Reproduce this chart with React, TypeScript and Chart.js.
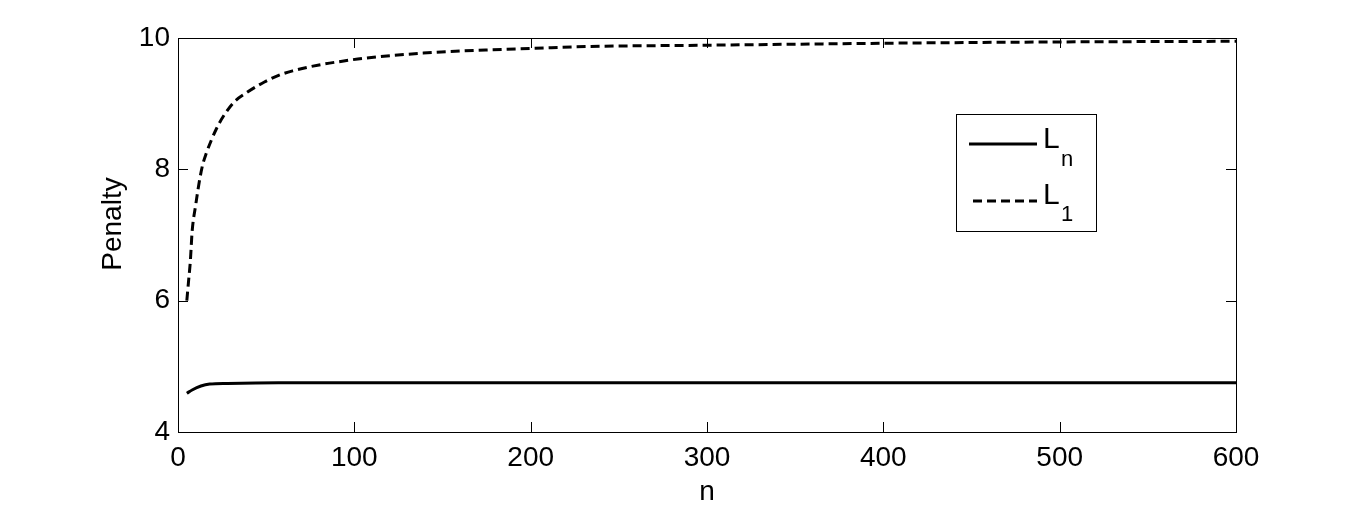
import React, { useEffect, useRef } from "react";
import { Chart, registerables } from "chart.js";

Chart.register(...registerables);

// ---- data ----
const l1N = [5, 6, 7, 8, 10, 12, 14, 16, 19, 22, 26, 32, 39, 49, 58, 65, 80, 94, 105, 139, 177, 200, 232, 300, 400, 500, 600];
const l1Vals = [6.0, 6.3, 6.6, 7.05, 7.45, 7.8, 8.07, 8.24, 8.45, 8.63, 8.82, 9.03, 9.17, 9.33, 9.44, 9.5, 9.59, 9.65, 9.69, 9.77, 9.82, 9.84, 9.87, 9.89, 9.92, 9.94, 9.95];

const lnN = [5, 8, 13, 18, 28, 57, 150, 300, 450, 600];
const lnVals = [4.59, 4.64, 4.7, 4.73, 4.74, 4.75, 4.75, 4.75, 4.75, 4.75];

const xTicks = [0, 100, 200, 300, 400, 500, 600];
const yTicks = [4, 6, 8, 10];

const seriesLabels = ["L", "L"];
const seriesSubs = ["n", "1"];
const xTitle = "n";
const yTitle = "Penalty";

const FONT = '"Liberation Sans", Arial, sans-serif';

const framePlugin = {
  id: "framePlugin",
  afterDatasetsDraw(chart: any) {
    const { ctx, chartArea } = chart;
    const { left, right, top, bottom } = chartArea;
    const xs = chart.scales.x;
    const ys = chart.scales.y;
    ctx.save();
    ctx.strokeStyle = "#000";
    ctx.lineWidth = 1;
    ctx.strokeRect(Math.round(left) + 0.5, Math.round(top) + 0.5, Math.round(right - left), Math.round(bottom - top));
    const tl = 10;
    ctx.beginPath();
    xTicks.forEach((v) => {
      const px = Math.round(xs.getPixelForValue(v)) + 0.5;
      ctx.moveTo(px, bottom);
      ctx.lineTo(px, bottom - tl);
      ctx.moveTo(px, top);
      ctx.lineTo(px, top + tl);
    });
    yTicks.forEach((v) => {
      const py = Math.round(ys.getPixelForValue(v)) + 0.5;
      ctx.moveTo(left, py);
      ctx.lineTo(left + tl, py);
      ctx.moveTo(right, py);
      ctx.lineTo(right - tl, py);
    });
    ctx.stroke();

    // axis titles
    ctx.fillStyle = "#000";
    ctx.font = `28px ${FONT}`;
    ctx.textAlign = "center";
    ctx.textBaseline = "alphabetic";
    ctx.fillText(xTitle, (left + right) / 2, 500);
    ctx.save();
    ctx.translate(121, 224);
    ctx.rotate(-Math.PI / 2);
    ctx.fillText(yTitle, 0, 0);
    ctx.restore();

    // legend
    const bx = 956.5, by = 114.5, bw = 140, bh = 117;
    ctx.fillStyle = "#fff";
    ctx.fillRect(bx, by, bw, bh);
    ctx.strokeStyle = "#000";
    ctx.lineWidth = 1;
    ctx.strokeRect(bx, by, bw, bh);
    const rows = [
      { y: 144, x0: 969, x1: 1037, base: 148, subBase: 166, dash: [] as number[] },
      { y: 201, x0: 973, x1: 1037, base: 204, subBase: 221, dash: [9, 5] },
    ];
    rows.forEach((r, i) => {
      ctx.save();
      ctx.lineWidth = 3;
      ctx.setLineDash(r.dash);
      ctx.beginPath();
      ctx.moveTo(r.x0, r.y);
      ctx.lineTo(r.x1, r.y);
      ctx.stroke();
      ctx.restore();
      ctx.fillStyle = "#000";
      ctx.textAlign = "left";
      ctx.font = `30px ${FONT}`;
      ctx.fillText(seriesLabels[i], 1043, r.base);
      ctx.font = `22px ${FONT}`;
      ctx.fillText(seriesSubs[i], 1061, r.subBase);
    });
    ctx.restore();
  },
};

export default function App() {
  const ref = useRef<HTMLCanvasElement>(null);
  useEffect(() => {
    if (!ref.current) return;
    const chart = new Chart(ref.current, {
      type: "line",
      data: {
        datasets: [
          {
            label: "Ln",
            data: lnN.map((n, i) => ({ x: n, y: lnVals[i] })),
            borderColor: "#000",
            borderWidth: 3,
            pointRadius: 0,
            fill: false,
            cubicInterpolationMode: "monotone",
          },
          {
            label: "L1",
            data: l1N.map((n, i) => ({ x: n, y: l1Vals[i] })),
            borderColor: "#000",
            borderWidth: 3,
            borderDash: [9, 5],
            pointRadius: 0,
            fill: false,
            cubicInterpolationMode: "monotone",
          },
        ],
      },
      options: {
        animation: false,
        responsive: false,
        maintainAspectRatio: false,
        layout: { padding: { left: 0, top: 38, right: 130, bottom: 0 } },
        plugins: { legend: { display: false }, tooltip: { enabled: false } },
        scales: {
          x: {
            type: "linear",
            min: 0,
            max: 600,
            border: { display: false },
            grid: { display: false, drawTicks: false },
            ticks: {
              stepSize: 100,
              padding: 9,
              color: "#000",
              font: { family: FONT, size: 28 },
              maxRotation: 0,
              autoSkip: false,
            },
            afterFit: (s: any) => {
              s.height = 77;
            },
          },
          y: {
            type: "linear",
            min: 4,
            max: 10,
            border: { display: false },
            grid: { display: false, drawTicks: false },
            ticks: {
              stepSize: 2,
              padding: 8,
              color: "#000",
              font: { family: FONT, size: 28 },
            },
            afterFit: (s: any) => {
              s.width = 178;
            },
          },
        },
      },
      plugins: [framePlugin],
    });
    return () => chart.destroy();
  }, []);
  return (
    <div style={{ position: "absolute", left: 0, top: 0, width: 1366, height: 509, background: "#fff" }}>
      <canvas ref={ref} width={1366} height={509} style={{ display: "block" }} />
    </div>
  );
}
